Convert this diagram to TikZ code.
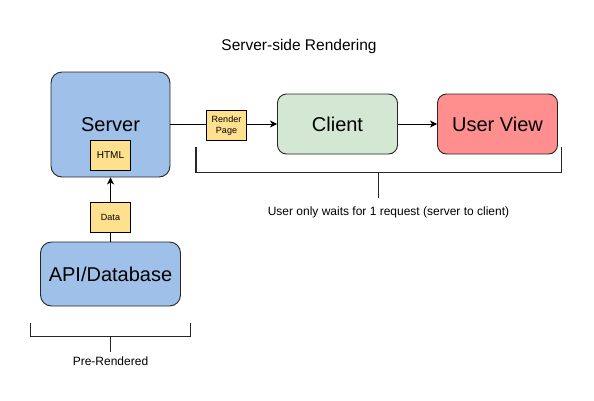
\documentclass[tikz,border=0pt]{standalone}
\usepackage{fontspec}
\setmainfont{Liberation Sans}
\usetikzlibrary{arrows.meta}
\definecolor{boxblue}{HTML}{9FC0E8}
\definecolor{boxyellow}{HTML}{FFE08F}
\definecolor{boxgreen}{HTML}{D3E7D2}
\definecolor{boxred}{HTML}{FF8F8F}
\tikzset{
  bigbox/.style={draw=black!85, line width=0.9pt, rounded corners=11pt, inner sep=0pt, font=\fontsize{20}{24}\selectfont},
  tag/.style={draw=black, line width=0.8pt, fill=boxyellow, inner sep=0pt, align=center},
  conn/.style={line width=0.9pt, black},
  arr/.style={conn, -{Stealth[length=7pt,width=7pt,inset=2pt]}},
  brace/.style={line width=1.8pt, black!85},
  lbl/.style={font=\fontsize{12}{14}\selectfont}
}
\begin{document}
\begin{tikzpicture}[x=1pt,y=-1pt]
\useasboundingbox (0,0) rectangle (594,400);
\node[font=\fontsize{15.5}{18}\selectfont] (title) at (299,46) {Server-side Rendering};
% server
\node[bigbox, fill=boxblue, minimum width=119pt, minimum height=105pt] (server) at (110.5,124.5) {};
\node[font=\fontsize{20}{24}\selectfont] (servertxt) at (110.5,125) {Server};
\node[tag, minimum width=40pt, minimum height=30pt, font=\fontsize{10}{12}\selectfont] (html) at (110.5,155) {HTML};
% client, user view
\node[bigbox, fill=boxgreen, minimum width=120pt, minimum height=60pt, rounded corners=9pt] (client) at (337.5,124) {Client};
\node[bigbox, fill=boxred, minimum width=120pt, minimum height=60pt, rounded corners=9pt] (view) at (497.5,124) {User View};
% api
\node[bigbox, fill=boxblue, minimum width=140pt, minimum height=64pt] (api) at (110.5,274) {API/Database};
% render page
\coordinate (srvR) at (server.east |- client.west);
\node[tag, minimum width=40pt, minimum height=30pt, font=\fontsize{9}{11.5}\selectfont] (render) at (226.5,125.5) {Render\\Page};
\draw[conn] (srvR) -- (render.west |- srvR);
\draw[arr] (render.east |- srvR) -- (client.west);
\draw[arr] (client.east) -- (view.west);
% data
\node[tag, minimum width=40pt, minimum height=30pt, font=\fontsize{9}{11}\selectfont] (data) at (110.5,217) {Data};
\draw[conn] (api.north) -- (data.south);
\draw[arr] (data.north) -- (server.south);
% bracket 1
\coordinate (b1l) at (196,147);
\coordinate (b1r) at (561.5,147);
\coordinate (b1m) at (378.5,172.5);
\coordinate (b1t) at (378.5,197.5);
\draw[brace] (b1l) -- (b1l |- b1m) -- (b1r |- b1m) -- (b1r);
\draw[brace] (b1m) -- (b1t);
\node[lbl] (wait) at (388.5,212) {User only waits for 1 request (server to client)};
% bracket 2
\coordinate (b2l) at (30.5,322.5);
\coordinate (b2r) at (190.5,322.5);
\coordinate (b2m) at (110.5,336.5);
\coordinate (b2t) at (110.5,351.5);
\draw[brace] (b2l) -- (b2l |- b2m) -- (b2r |- b2m) -- (b2r);
\draw[brace] (b2m) -- (b2t);
\node[lbl] (pre) at (110.5,361) {Pre-Rendered};
\end{tikzpicture}
\end{document}
